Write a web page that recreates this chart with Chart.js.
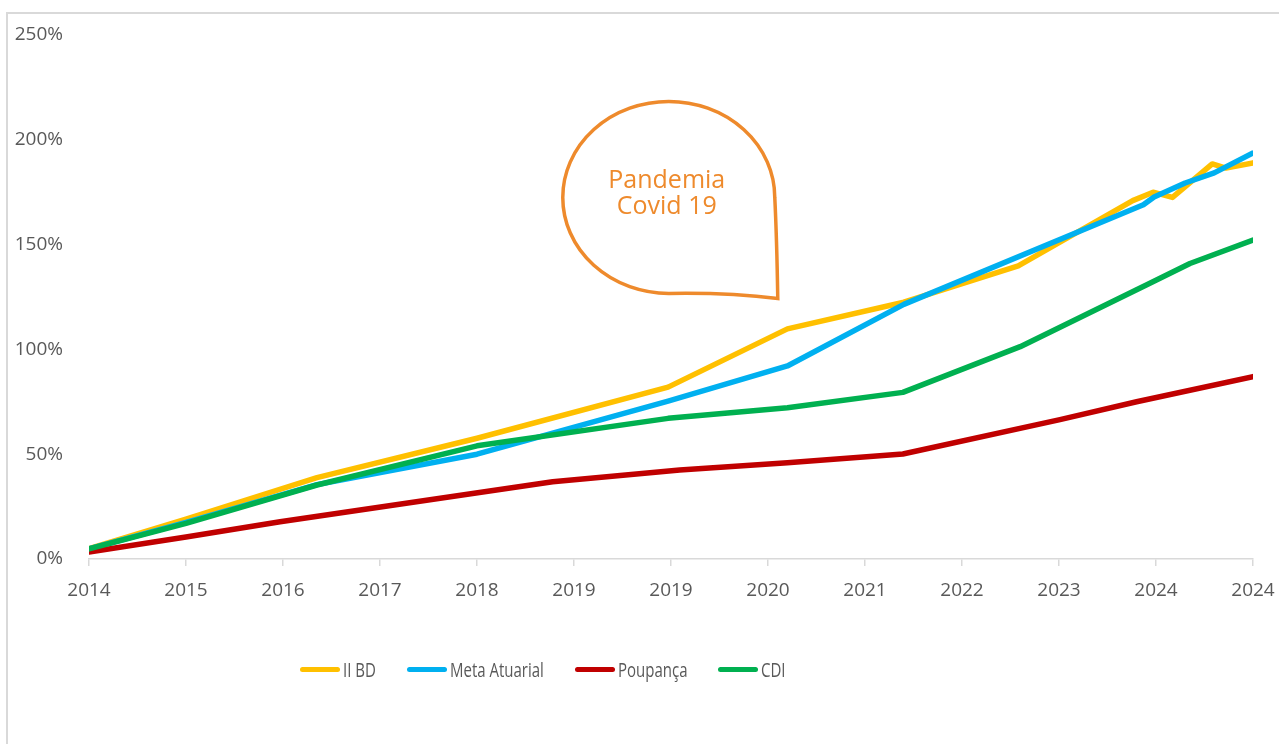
<!DOCTYPE html>
<html>
<head>
<meta charset="utf-8">
<script src="https://cdn.jsdelivr.net/npm/chart.js@4.4.1/dist/chart.umd.min.js"></script>
<style>
  html, body { margin: 0; padding: 0; background: #fff; overflow: hidden; }
  #frame { position: absolute; left: 6px; top: 12px; width: 1400px; height: 800px;
           border-left: 2px solid #d9d9d9; border-top: 2px solid #d9d9d9; }
  #chart { position: absolute; left: 0; top: 0; }
  #legend { position: absolute; left: 300px; top: 656px; display: flex; align-items: center;
            font-family: 'Open Sans', sans-serif; font-size: 20px; color: #595959; white-space: nowrap; }
  #legend .item { display: flex; align-items: center; margin-right: 31px; }
  #legend .swatch { width: 40px; height: 5.5px; border-radius: 3px; margin-right: 3px; }
  #legend .txt { display: inline-block; transform: scaleX(0.75); transform-origin: left center; }
</style>
</head>
<body>
<div id="frame"></div>
<canvas id="chart" width="1279" height="744"></canvas>
<div id="legend"></div>
<script>
// tick labels of the x axis (one per tick, 0..12)
var tickLabels = ['2014','2015','2016','2017','2018','2019','2019','2020','2021','2022','2023','2024','2024'];

// II BD
var bdX = [0, 1, 2.35, 4, 5.97, 7.2, 8.4, 9.58, 10.76, 10.97, 11.17, 11.58, 11.72, 12];
var bdY = [5, 19, 38.8, 57.6, 82, 109.8, 122.5, 139.8, 171, 175, 172.5, 188.5, 186.5, 189];

// Meta Atuarial
var metaX = [0, 1, 2.35, 4, 5.97, 7.2, 8.4, 10.87, 10.98, 11.3, 11.6, 12];
var metaY = [4.8, 17.5, 35.5, 50, 75.3, 92.1, 121.5, 169, 172.7, 179.4, 184.2, 193.7];

// Poupança
var poupX = [0, 1, 1.97, 4.78, 6.09, 7.2, 8.39, 10.01, 10.8, 12];
var poupY = [3.3, 10.5, 17.8, 36.9, 42.5, 45.9, 50.1, 66.5, 75, 87];

// CDI
var cdiX = [0, 1, 2.35, 4, 5.97, 7.2, 8.39, 9.6, 10.9, 11.35, 12];
var cdiY = [4.8, 17, 35.3, 54, 67.1, 72.2, 79.5, 101.3, 130.7, 141, 152.2];

function pts(xs, ys) {
  var out = [];
  for (var i in xs) out.push({x: xs[i], y: ys[i]});
  return out;
}

var textColor = '#595959';
var orange = '#EE8A2C';
Chart.defaults.font.family = "'Open Sans', sans-serif";
Chart.defaults.color = textColor;

function line(label, data, color, order) {
  return {
    label: label,
    data: data,
    borderColor: color,
    backgroundColor: color,
    borderWidth: 5.5,
    borderCapStyle: 'round',
    borderJoinStyle: 'round',
    pointRadius: 0,
    tension: 0,
    order: order
  };
}

// speech bubble note
var bubble = {
  id: 'bubble',
  afterDraw: function(chart) {
    var ctx = chart.ctx;
    var xs = chart.scales.x, ys = chart.scales.y;
    var cx = xs.getPixelForValue(5.977);
    var cy = ys.getPixelForValue(172.5);
    var rx = 106, ry = 96;
    ctx.save();
    ctx.strokeStyle = orange;
    ctx.lineWidth = 3.5;
    ctx.lineJoin = 'miter';
    ctx.beginPath();
    ctx.ellipse(cx, cy, rx, ry, 0, Math.PI / 2, Math.PI * 2);
    ctx.quadraticCurveTo(cx + rx + 2, cy + 40, cx + rx + 3, cy + ry + 5);
    ctx.quadraticCurveTo(cx + 60, cy + ry - 1, cx, cy + ry);
    ctx.stroke();
    ctx.fillStyle = orange;
    ctx.font = "25px 'Open Sans'";
    ctx.textAlign = 'center';
    ctx.textBaseline = 'alphabetic';
    ctx.fillText('Pandemia', cx - 2, cy - 9);
    ctx.fillText('Covid 19', cx - 2, cy + 17);
    ctx.restore();
  }
};

var chart = new Chart(document.getElementById('chart'), {
  type: 'line',
  data: {
    datasets: [
      line('II BD', pts(bdX, bdY), '#FFC000', 4),
      line('Meta Atuarial', pts(metaX, metaY), '#00B0F0', 3),
      line('Poupança', pts(poupX, poupY), '#C00000', 2),
      line('CDI', pts(cdiX, cdiY), '#00B050', 1)
    ]
  },
  options: {
    responsive: false,
    animation: false,
    layout: { padding: { left: 0, top: 35, right: 26, bottom: 118 } },
    plugins: {
      tooltip: { enabled: false },
      legend: { display: false }
    },
    scales: {
      x: {
        type: 'linear',
        min: 0,
        max: 12,
        afterFit: function(s) { s.height = 67; s.paddingLeft = 0; s.paddingRight = 0; },
        ticks: {
          stepSize: 1,
          autoSkip: false,
          maxRotation: 0,
          padding: 13,
          color: textColor,
          font: { size: 19 },
          callback: function(v) { return tickLabels[v]; }
        },
        grid: { drawOnChartArea: false, drawTicks: true, tickLength: 7, color: '#d9d9d9', lineWidth: 1.5 },
        border: { color: '#d9d9d9', width: 1.5 }
      },
      y: {
        min: 0,
        max: 250,
        afterFit: function(s) { s.width = 89; s.paddingTop = 0; s.paddingBottom = 0; },
        ticks: {
          stepSize: 50,
          padding: 26,
          color: textColor,
          font: { size: 19 },
          callback: function(v) { return v + '%'; }
        },
        grid: { display: false, drawTicks: false },
        border: { display: false }
      }
    }
  },
  plugins: [bubble]
});

// legend built from the datasets
var legend = document.getElementById('legend');
chart.data.datasets.forEach(function(ds) {
  var item = document.createElement('div');
  item.className = 'item';
  var sw = document.createElement('span');
  sw.className = 'swatch';
  sw.style.background = ds.borderColor;
  var tx = document.createElement('span');
  tx.className = 'txt';
  tx.textContent = ds.label;
  item.appendChild(sw);
  item.appendChild(tx);
  legend.appendChild(item);
  tx.style.marginRight = (-tx.offsetWidth * 0.25) + 'px';
});
</script>
</body>
</html>
